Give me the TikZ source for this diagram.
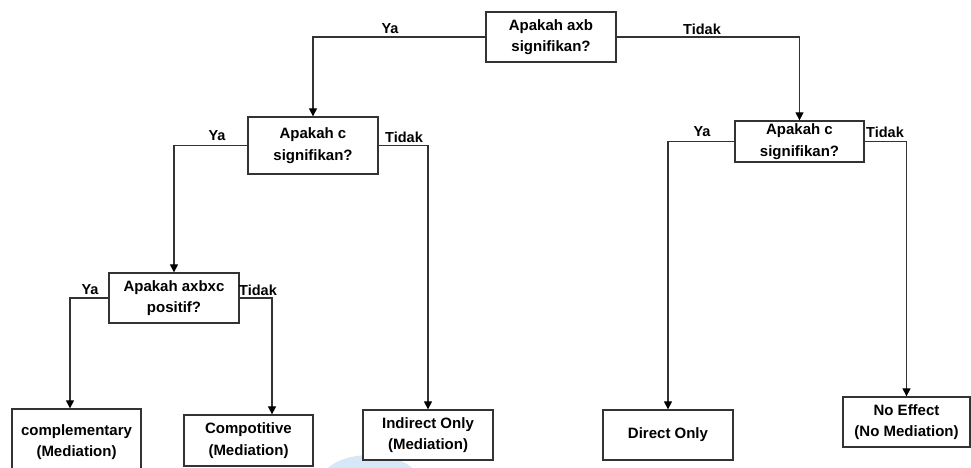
\documentclass[tikz,border=0pt]{standalone}
\usepackage{fontspec}
\setmainfont{Liberation Sans}
\usetikzlibrary{arrows.meta}
\definecolor{linegray}{HTML}{333333}
\definecolor{washblue}{RGB}{214,232,248}
\begin{document}
\begin{tikzpicture}[x=1pt,y=-1pt,
  qbox/.style={draw=linegray,line width=1.3pt,fill=white,align=center,
    font=\fontsize{15}{21.5}\selectfont\bfseries,inner sep=0pt},
  lbl/.style={font=\fontsize{14.5}{16}\selectfont\bfseries,inner sep=0pt},
  arr/.style={draw=linegray,line width=1.2pt,-{Triangle[length=8pt,width=8pt,color=black]}}]
\useasboundingbox (0,0) rectangle (971,467);

% soft blue wash near the bottom edge
\fill[washblue] (370,480) ellipse [x radius=48, y radius=25];

% decision boxes
\node[qbox,minimum width=130,minimum height=50] (top) at (551,37) {Apakah axb\\signifikan?};
\node[qbox,minimum width=130,minimum height=57] (c1) at (313,145.5) {Apakah c\\signifikan?};
\node[qbox,minimum width=129,minimum height=41] (c2) at (799.5,141.5) {Apakah c\\signifikan?};
\node[qbox,minimum width=130,minimum height=50] (q3) at (174,298) {Apakah axbxc\\positif?};

% outcome boxes
\node[qbox,minimum width=129,minimum height=66] (compl) at (76.5,442) {complementary\\(Mediation)};
\node[qbox,minimum width=129,minimum height=51] (compot) at (248.5,440.5) {Compotitive\\(Mediation)};
\node[qbox,minimum width=130,minimum height=50] (indir) at (428,435) {Indirect Only\\(Mediation)};
\node[qbox,minimum width=130,minimum height=50] (direct) at (668,435) {Direct Only};
\node[qbox,minimum width=127,minimum height=50] (noeff) at (906.5,422) {No Effect\\(No Mediation)};

% connectors
\draw[arr] (top.west) -| (c1.north);
\draw[arr] (top.east) -| (c2.north);
\draw[arr] (c1.west) -| (q3.north);
\draw[arr] (c1.east) -| (indir.north);
\draw[arr] (c2.west) -| (direct.north);
\draw[arr] (c2.east) -| (noeff.north);
\draw[arr] (q3.west) -| ([xshift=-6.5pt]compl.north);
\draw[arr] (q3.east) -| ([xshift=23.5pt]compot.north);

% branch labels
\node[lbl] (l1) at (390,29) {Ya};
\node[lbl] (l2) at (702,29) {Tidak};
\node[lbl] (l3) at (217,136) {Ya};
\node[lbl] (l4) at (404,137) {Tidak};
\node[lbl] (l5) at (702,132) {Ya};
\node[lbl] (l6) at (885,132) {Tidak};
\node[lbl] (l7) at (90,290) {Ya};
\node[lbl] (l8) at (258,290) {Tidak};
\end{tikzpicture}
\end{document}
